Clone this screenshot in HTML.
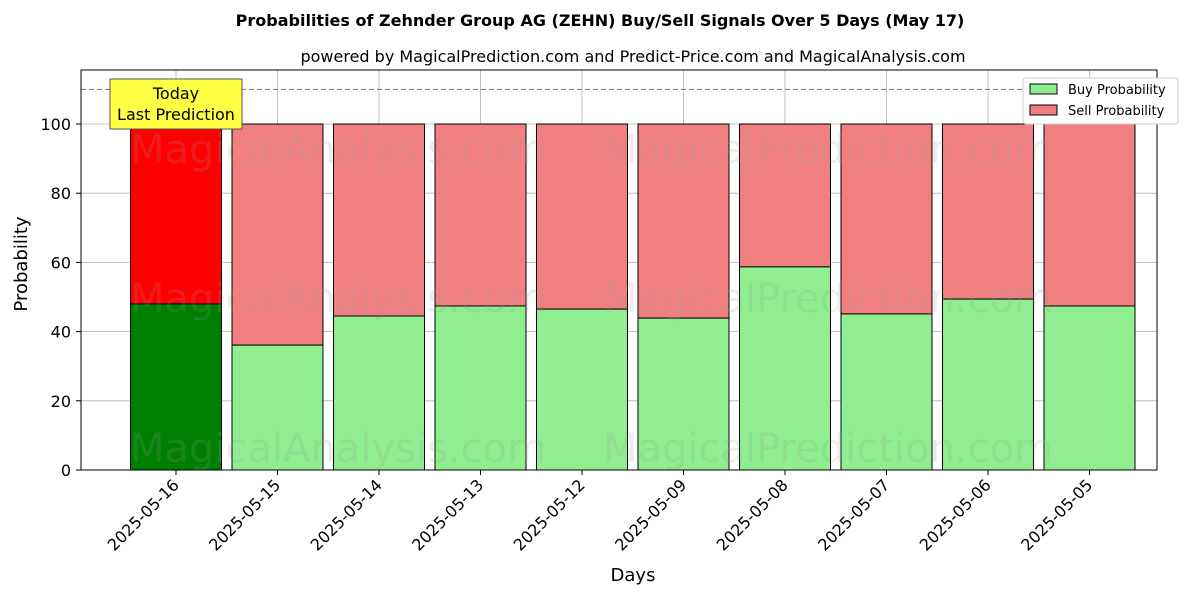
<!DOCTYPE html>
<html><head><meta charset="utf-8"><style>
body{margin:0;background:#fff;font-family:"Liberation Sans","DejaVu Sans",sans-serif}
svg text{font-family:"DejaVu Sans","Liberation Sans",sans-serif}
</style></head><body>
<svg id="chart" width="1200" height="600" xmlns="http://www.w3.org/2000/svg">
<text x="600" y="26" text-anchor="middle" font-size="16" font-weight="bold">Probabilities of Zehnder Group AG (ZEHN) Buy/Sell Signals Over 5 Days (May 17)</text>
<text x="633" y="62" text-anchor="middle" font-size="16">powered by MagicalPrediction.com and Predict-Price.com and MagicalAnalysis.com</text>
<g id="grid"></g>
<g id="bars"></g>
<g id="wm" fill="#999" opacity="0.18" font-size="40">
<text x="130" y="163">MagicalAnalysis.com</text>
<text x="603" y="163">MagicalPrediction.com</text>
<text x="130" y="312">MagicalAnalysis.com</text>
<text x="603" y="312">MagicalPrediction.com</text>
<text x="130" y="462">MagicalAnalysis.com</text>
<text x="603" y="462">MagicalPrediction.com</text>
</g>
<line x1="81" x2="1157" y1="89.4" y2="89.4" stroke="#777" stroke-dasharray="5,3"/>
<rect x="81" y="70" width="1076" height="400" fill="none" stroke="#000"/>
<g id="axes"></g>
<text x="33" y="270" transform="rotate(-90 27 270)" text-anchor="middle" font-size="18">Probability</text>
<text x="633" y="581" text-anchor="middle" font-size="18">Days</text>
<g>
<rect x="110" y="79" width="132" height="50" fill="#ffff44" stroke="#555"/>
<text x="176" y="99" text-anchor="middle" font-size="16">Today</text>
<text x="176" y="120" text-anchor="middle" font-size="16">Last Prediction</text>
</g>
<g>
<rect x="1023" y="78" width="155" height="46" fill="#fff" stroke="#ccc" rx="3"/>
<rect x="1030" y="84" width="27" height="10" fill="#90ee90" stroke="#000"/>
<text x="1068" y="94" font-size="13">Buy Probability</text>
<rect x="1030" y="105" width="27" height="10" fill="#f08080" stroke="#000"/>
<text x="1068" y="115" font-size="13">Sell Probability</text>
</g>
</svg>
<script>
const categories=["2025-05-16","2025-05-15","2025-05-14","2025-05-13","2025-05-12","2025-05-09","2025-05-08","2025-05-07","2025-05-06","2025-05-05"];
const buyValues=[48.0,36.1,44.5,47.4,46.5,43.9,58.7,45.1,49.4,47.4];
const yTicks=[0,20,40,60,80,100];
const NS="http://www.w3.org/2000/svg";
const xS=i=>176+i*101.5;
const yS=v=>470-v*3.46;
function mk(t,a,p){const e=document.createElementNS(NS,t);for(const k in a)e.setAttribute(k,a[k]);p.appendChild(e);return e;}
const grid=document.getElementById('grid'),bars=document.getElementById('bars'),axes=document.getElementById('axes');
yTicks.forEach(v=>{
 const l=mk('line',{x1:81,x2:1157,y1:yS(v),y2:yS(v),stroke:'#b0b0b0','stroke-width':0.8},grid);
 
 
 mk('line',{x1:76,x2:81,y1:yS(v),y2:yS(v),stroke:'#000'},axes);
 const t=mk('text',{x:71,y:yS(v)+6,'text-anchor':'end','font-size':16},axes);t.textContent=v;
 
 
});
categories.forEach((c,i)=>{
 const x=xS(i);
 const g=mk('line',{x1:x,x2:x,y1:70,y2:470,stroke:'#b0b0b0','stroke-width':0.8},grid);
 
 
 const b=buyValues[i];
 const s=mk('rect',{x:x-45.5,y:yS(100),width:91,height:yS(b)-yS(100),fill:i==0?'#ff0000':'#f08080',stroke:'#000','stroke-width':1},bars);
 
 
 const r=mk('rect',{x:x-45.5,y:yS(b),width:91,height:470-yS(b),fill:i==0?'#008000':'#90ee90',stroke:'#000','stroke-width':1},bars);
 
 
 mk('line',{x1:x,x2:x,y1:470,y2:475,stroke:'#000'},axes);
 const t=mk('text',{x:x+4,y:486,'text-anchor':'end','font-size':16,transform:`rotate(-45 ${x+4} 486)`},axes);t.textContent=c;
 
 
});
</script>
</body></html>
